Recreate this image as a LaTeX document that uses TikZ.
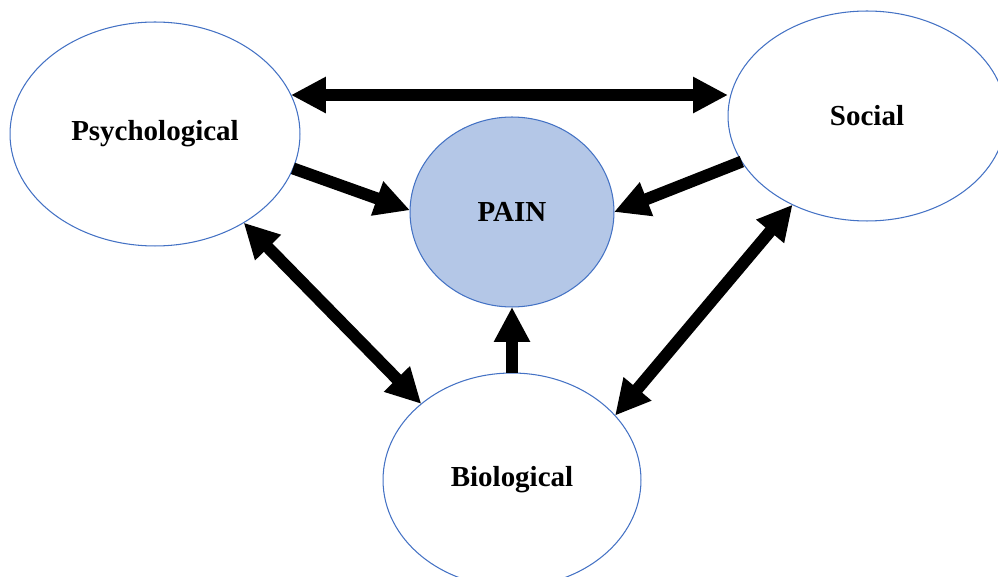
\documentclass[tikz,border=0pt]{standalone}
\usepackage{fontspec}
\setmainfont{Liberation Serif}
\usepackage{tikz}
\usetikzlibrary{shapes.geometric}
\usetikzlibrary{arrows.meta}
\definecolor{officeblue}{HTML}{4472C4}
\definecolor{painfill}{HTML}{B4C7E7}
\tikzstyle{factor}=[ellipse, draw=officeblue, line width=0.6pt, inner sep=0pt, outer sep=0pt, font=\fontsize{16.5}{20}\selectfont\bfseries]
\tikzstyle{oneway}=[line width=0.24cm, -{Triangle[length=0.7cm,width=0.68cm]}]
\tikzstyle{twoway}=[line width=0.24cm, {Triangle[length=0.7cm,width=0.68cm]}-{Triangle[length=0.7cm,width=0.68cm]}]

\begin{document}
\begin{tikzpicture}[x=0.02cm,y=-0.02cm]
\useasboundingbox (0,0) rectangle (998,577);
\clip (0,0) rectangle (998,577);

\node[factor, minimum width=5.8cm, minimum height=4.48cm] (psy) at (155,134) {Psychological};
\node[factor, minimum width=5.56cm, minimum height=4.2cm] (soc) at (867,116) {Social};
\node[factor, fill=painfill, minimum width=4.08cm, minimum height=3.8cm] (pain) at (512,212) {PAIN};
\node[factor, minimum width=5.16cm, minimum height=4.28cm] (bio) at (512,480) {Biological};

\draw[twoway] (psy.16.5) -- (psy.16.5 -| soc.west);
\draw[oneway] (psy.-14.7) -- (pain.179);
\draw[oneway] (soc.-160) -- (pain.0.5);
\draw[twoway] (psy.-45) -- (bio.140);
\draw[twoway] (soc.230) -- (bio.32);
\draw[oneway] (bio.north) -- (pain.south);

\end{tikzpicture}
\end{document}
